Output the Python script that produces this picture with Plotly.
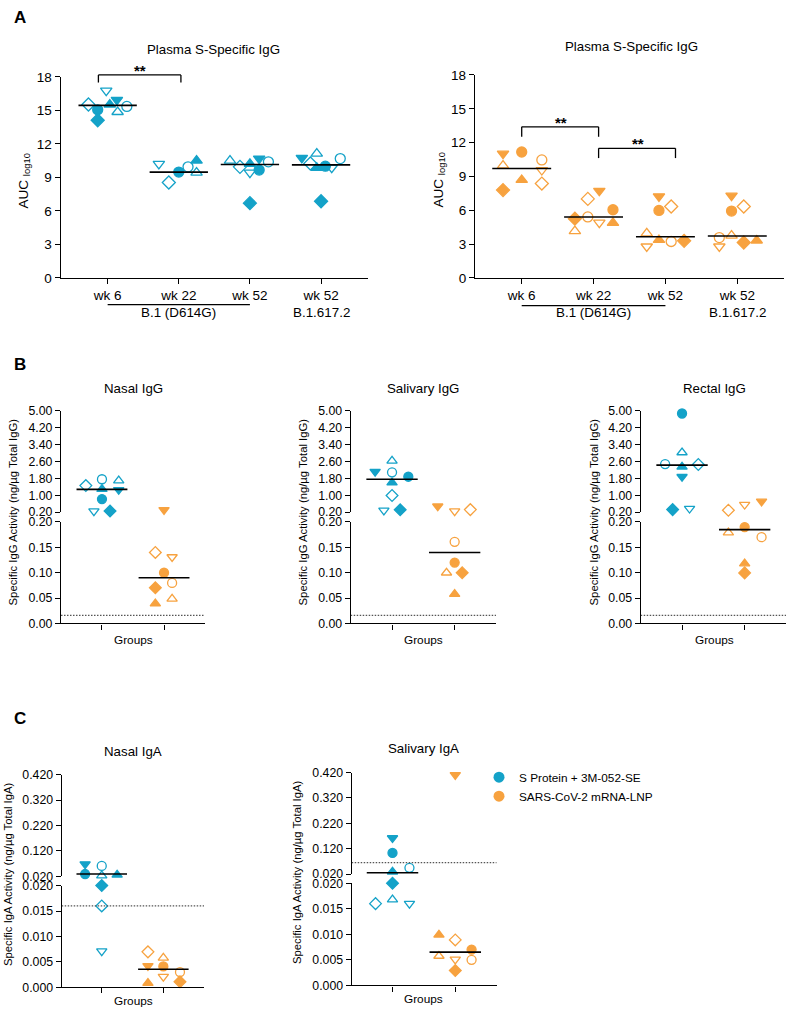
import plotly.graph_objects as go

W, H = 788, 1018
BLUE = '#14A2C8'
ORANGE = '#F7A23F'
FONT = 'Liberation Sans, Arial, Helvetica, sans-serif'

group_names = ['S Protein + 3M-052-SE', 'SARS-CoV-2 mRNA-LNP']
# animal order: filled circle, filled diamond, filled tri-up, filled tri-down,
#               open circle, open diamond, open tri-up, open tri-down
animal_symbols = ['circle', 'diamond', 'triangle-up', 'triangle-down',
                  'circle-open', 'diamond-open', 'triangle-up-open', 'triangle-down-open']

# ---------------- Panel A data (AUC log10) ----------------
a_tick_labels = ['wk 6', 'wk 22', 'wk 52', 'wk 52']
a_variant_labels = ['B.1 (D614G)', 'B.1.617.2']
a_protein_wk6 = [15.06, 14.12, 15.53, 15.94, 15.36, 15.53, 14.86, 16.77]
a_protein_wk22 = [9.48, None, 10.51, None, 9.95, 8.55, 9.43, 10.22]
a_protein_wk52 = [9.66, 6.70, 10.22, 10.69, 10.40, 9.95, 10.51, 9.43]
a_protein_wk52_delta = [10.01, 6.87, 9.87, 10.75, 10.69, 10.25, 11.13, 9.87]
a_protein_medians = [15.45, 9.48, 10.16, 10.13]
a_mrna_wk6 = [11.17, 7.79, 8.69, 11.02, 10.47, 8.37, 9.97, 9.57]
a_mrna_wk22 = [6.05, 5.26, 4.88, 7.73, 5.41, 7.01, 4.16, 4.91]
a_mrna_wk52 = [5.99, 3.29, 3.37, 7.24, 3.23, 6.34, 3.95, 2.79]
a_mrna_wk52_delta = [5.93, 3.14, 3.32, 7.30, 3.58, 6.34, 3.75, 2.79]
a_mrna_medians = [9.71, 5.41, 3.66, 3.72]

# ---------------- Panel B data (ng/ug total IgG) ----------------
nasal_igg_protein = [0.82, 0.25, 1.29, 1.26, 1.76, 1.46, 1.70, 0.25]
nasal_igg_mrna = [0.10, 0.0705, 0.039, 0.31, 0.080, 0.140, 0.0485, 0.131]
nasal_igg_medians = [1.28, 0.09]
salivary_igg_protein = [1.88, 0.31, 1.60, 2.12, 2.09, 0.99, 2.63, 0.28]
salivary_igg_mrna = [0.120, 0.10, 0.058, 0.48, 0.161, 0.32, 0.10, 0.25]
salivary_igg_medians = [1.76, 0.14]
rectal_igg_protein = [4.88, 0.32, 2.35, 1.88, 2.48, 2.46, 3.03, 0.37]
rectal_igg_mrna = [0.190, 0.0997, 0.118, 0.71, 0.170, 0.29, 0.179, 0.56]
rectal_igg_medians = [2.43, 0.185]
igg_detection_limit = 0.016

# ---------------- Panel C data (ng/ug total IgA) ----------------
nasal_iga_protein = [0.029, 0.020, 0.026, 0.068, 0.061, 0.016, 0.0226, 0.0071]
nasal_iga_mrna = [0.0041, 0.0011, 0.00084, 0.0042, 0.0030, 0.00697, 0.0058, 0.0021]
nasal_iga_medians = [0.029, 0.00355]
nasal_iga_limit = 0.016
salivary_iga_protein = [0.103, 0.020, 0.029, 0.162, 0.0446, 0.016, 0.0168, 0.016]
salivary_iga_mrna = [0.0070, 0.0029, 0.0099, 0.411, 0.0050, 0.0089, 0.00575, 0.0051]
salivary_iga_medians = [0.025, 0.0065]
salivary_iga_limit = 0.065

# ---------------- layout helpers: horizontal jitter per point ----------------
a_protein_offsets = [
    [-0.14, -0.14, 0.03, 0.13, 0.27, -0.27, 0.14, -0.02],
    [0.0, 0.0, 0.25, 0.0, 0.13, -0.14, 0.25, -0.28],
    [0.13, 0.0, 0.0, 0.13, 0.26, -0.14, -0.28, 0.0],
    [0.06, 0.0, -0.06, -0.27, 0.27, -0.15, -0.06, 0.15],
]
a_mrna_offsets = [
    [0.0, -0.26, 0.0, -0.26, 0.28, 0.28, -0.26, 0.28],
    [0.27, -0.26, 0.27, 0.08, -0.08, -0.08, -0.26, 0.08],
    [-0.09, 0.26, -0.09, -0.09, 0.08, 0.08, -0.26, -0.26],
    [-0.08, 0.09, 0.27, -0.08, -0.25, 0.09, -0.08, -0.25],
]
nasal_igg_off = [[0, 0.13, 0, 0.27, 0, -0.26, 0.27, -0.13],
                 [0, -0.14, -0.14, 0, 0.13, -0.14, 0.13, 0.13]]
salivary_igg_off = [[0.26, 0.13, 0, -0.27, 0, 0, 0, -0.13],
                    [0, 0.12, 0, -0.27, 0, 0.25, -0.13, 0]]
rectal_igg_off = [[0, -0.15, 0, 0, -0.27, 0.26, 0, 0.12],
                  [0, 0, 0, 0.27, 0.27, -0.26, -0.26, 0]]
nasal_iga_off = [[-0.27, 0, 0.25, -0.27, 0, 0, 0, 0],
                 [0, 0.27, -0.25, -0.25, 0.27, -0.25, 0, 0]]
salivary_iga_off = [[0, 0, 0, 0, 0.27, -0.27, 0, 0.27],
                    [0.26, 0, -0.26, 0, 0.26, 0, -0.26, 0]]


def px_x(px):
    return px / W


def px_y(py):
    return 1 - py / H


fig = go.Figure()


def add_points(xa, ya, cat, values, offsets, color, size, keep=lambda v: True):
    xs, ys, syms = [], [], []
    for v, o, s in zip(values, offsets, animal_symbols):
        if v is None or not keep(v):
            continue
        xs.append(cat + o)
        ys.append(v)
        syms.append(s)
    if not xs:
        return
    fig.add_trace(go.Scatter(
        x=xs, y=ys, xaxis=xa, yaxis=ya, mode='markers',
        marker=dict(symbol=syms, size=size, color=color, line=dict(color=color, width=1.3)),
        cliponaxis=False, showlegend=False, hoverinfo='skip'))


def add_median(xa, ya, cat, m, half=0.41):
    fig.add_trace(go.Scatter(
        x=[cat - half, cat + half], y=[m, m], xaxis=xa, yaxis=ya, mode='lines',
        line=dict(color='black', width=1.6), cliponaxis=False,
        showlegend=False, hoverinfo='skip'))


axis_common = dict(showline=True, linecolor='black', linewidth=1.3, ticks='outside',
                   ticklen=5, tickwidth=1.3, tickcolor='black', showgrid=False,
                   zeroline=False, fixedrange=True)


def xaxis(left, right, rng, anchor, tickvals, ticktext=None, size=13.5):
    d = dict(axis_common, domain=[px_x(left), px_x(right)], range=rng, anchor=anchor,
             tickvals=tickvals, tickfont=dict(size=size, color='black', family=FONT))
    if ticktext is None:
        d['showticklabels'] = False
    else:
        d['ticktext'] = ticktext
    return d


def yaxis(top, bottom, rng, anchor, tickvals, fmt, size=12.3):
    return dict(axis_common, domain=[px_y(bottom), px_y(top)], range=rng, anchor=anchor,
                tickvals=tickvals, tickformat=fmt,
                tickfont=dict(size=size, color='black', family=FONT))


layout = {}
# Panel A
A_XR1 = [-0.66, 3.66]
A_XR2 = [-0.65, 3.65]
layout['xaxis'] = xaxis(60.7, 368, A_XR1, 'y', [0, 1, 2, 3], a_tick_labels)
layout['yaxis'] = yaxis(71, 275, [0, 18], 'x', [0, 3, 6, 9, 12, 15, 18], 'd', size=13.5)
layout['xaxis2'] = xaxis(475, 784, A_XR2, 'y2', [0, 1, 2, 3], a_tick_labels)
layout['yaxis2'] = yaxis(69, 275, [0, 18], 'x2', [0, 3, 6, 9, 12, 15, 18], 'd', size=13.5)

# Panel B (broken axes)
igg_up_ticks = [0.2, 1.0, 1.8, 2.6, 3.4, 4.2, 5.0]
igg_low_ticks = [0.0, 0.05, 0.10, 0.15, 0.20]
B_XR = [-0.66, 1.66]
b_panels = [('3', '3', '4', 61, 205), ('4', '5', '6', 350.7, 496), ('5', '7', '8', 640.7, 786)]
for xn, yu, yl, l, r in b_panels:
    layout['xaxis' + xn] = xaxis(l, r, B_XR, 'y' + yl, [0, 1])
    layout['yaxis' + yu] = yaxis(410, 512.7, [0.2, 5.0], 'x' + xn, igg_up_ticks, '.2f')
    layout['yaxis' + yl] = yaxis(522.7, 625.7, [0, 0.2], 'x' + xn, igg_low_ticks, '.2f')

# Panel C (broken axes)
iga_up_ticks = [0.02, 0.12, 0.22, 0.32, 0.42]
iga_low_ticks = [0.0, 0.005, 0.010, 0.015, 0.020]
C_XR = [-0.65, 1.66]
layout['xaxis6'] = xaxis(61.7, 204, C_XR, 'y10', [0, 1])
layout['yaxis9'] = yaxis(779.3, 882.3, [0.02, 0.42], 'x6', iga_up_ticks, '.3f')
layout['yaxis10'] = yaxis(891.7, 995, [0, 0.02], 'x6', iga_low_ticks, '.3f')
layout['xaxis7'] = xaxis(351.7, 496.7, C_XR, 'y12', [0, 1])
layout['yaxis11'] = yaxis(777, 880, [0.02, 0.42], 'x7', iga_up_ticks, '.3f')
layout['yaxis12'] = yaxis(889.3, 993, [0, 0.02], 'x7', iga_low_ticks, '.3f')

# ---------------- traces: panel A ----------------
a_protein = [a_protein_wk6, a_protein_wk22, a_protein_wk52, a_protein_wk52_delta]
a_mrna = [a_mrna_wk6, a_mrna_wk22, a_mrna_wk52, a_mrna_wk52_delta]
for c in range(4):
    add_points('x', 'y', c, a_protein[c], a_protein_offsets[c], BLUE, 10)
    add_points('x2', 'y2', c, a_mrna[c], a_mrna_offsets[c], ORANGE, 10)
for c in range(4):
    add_median('x', 'y', c, a_protein_medians[c])
    add_median('x2', 'y2', c, a_mrna_medians[c])

# ---------------- traces: panels B & C ----------------
broken = [
    ('x3', 'y3', 'y4', 0.2, [nasal_igg_protein, nasal_igg_mrna], nasal_igg_off, nasal_igg_medians),
    ('x4', 'y5', 'y6', 0.2, [salivary_igg_protein, salivary_igg_mrna], salivary_igg_off, salivary_igg_medians),
    ('x5', 'y7', 'y8', 0.2, [rectal_igg_protein, rectal_igg_mrna], rectal_igg_off, rectal_igg_medians),
    ('x6', 'y9', 'y10', 0.02, [nasal_iga_protein, nasal_iga_mrna], nasal_iga_off, nasal_iga_medians),
    ('x7', 'y11', 'y12', 0.02, [salivary_iga_protein, salivary_iga_mrna], salivary_iga_off, salivary_iga_medians),
]
colors = [BLUE, ORANGE]
for xa, yu, yl, brk, groups, offs, meds in broken:
    for g in range(2):
        add_points(xa, yu, g, groups[g], offs[g], colors[g], 9, keep=lambda v, b=brk: v > b)
        add_points(xa, yl, g, groups[g], offs[g], colors[g], 9, keep=lambda v, b=brk: v <= b)
    for g in range(2):
        add_median(xa, yu if meds[g] > brk else yl, g, meds[g])

# legend entries
for name, col in zip(group_names, colors):
    fig.add_trace(go.Scatter(x=[None], y=[None], xaxis='x', yaxis='y', mode='markers',
                             marker=dict(symbol='circle', size=11, color=col),
                             name=name, showlegend=True))

# ---------------- shapes ----------------
shapes = []


def xdom(v, rng):
    return (v - rng[0]) / (rng[1] - rng[0])


def line_dom(xa, rng_x, x0, x1, ya, rng_y, y0, y1, width=1.3):
    shapes.append(dict(type='line', xref=xa + ' domain', yref=ya + ' domain',
                       x0=xdom(x0, rng_x), x1=xdom(x1, rng_x),
                       y0=xdom(y0, rng_y), y1=xdom(y1, rng_y),
                       line=dict(color='black', width=width)))


def bracket(xa, rng_x, ya, xl, xr, ytop, ylow):
    line_dom(xa, rng_x, xl, xr, ya, [0, 18], ytop, ytop)
    line_dom(xa, rng_x, xl, xl, ya, [0, 18], ytop, ylow)
    line_dom(xa, rng_x, xr, xr, ya, [0, 18], ytop, ylow)


bracket('x', A_XR1, 'y', -0.13, 1.03, 18.18, 17.5)
bracket('x2', A_XR2, 'y2', 0.0, 1.07, 13.4, 12.52)
bracket('x2', A_XR2, 'y2', 1.07, 2.14, 11.5, 10.63)

# variant underline
for xa, rng, ypx in [('x', A_XR1, 302), ('x2', A_XR2, 303)]:
    shapes.append(dict(type='line', xref=xa + ' domain', yref='paper',
                       x0=xdom(0, rng), x1=xdom(2, rng), y0=px_y(ypx), y1=px_y(ypx),
                       line=dict(color='black', width=1.2)))

# detection limits (dotted)
for xa, ya, val, rng in [('x3', 'y4', igg_detection_limit, B_XR), ('x4', 'y6', igg_detection_limit, B_XR),
                         ('x5', 'y8', igg_detection_limit, B_XR), ('x6', 'y10', nasal_iga_limit, C_XR),
                         ('x7', 'y11', salivary_iga_limit, C_XR)]:
    shapes.append(dict(type='line', xref=xa, yref=ya, x0=rng[0], x1=rng[1], y0=val, y1=val,
                       line=dict(color='#555555', width=1.2, dash='1.5px,1.5px')))

# ---------------- annotations ----------------
ann = []


def text(t, xpx, ypx, size=13.3, bold=False, angle=0, xref='paper', xval=None):
    ann.append(dict(text=('<b>%s</b>' % t) if bold else t,
                    x=xval if xval is not None else px_x(xpx), xref=xref,
                    y=px_y(ypx), yref='paper', showarrow=False, textangle=angle,
                    xanchor='center', yanchor='middle',
                    font=dict(size=size, color='black', family=FONT)))


text('A', 20, 11, size=17, bold=True)
text('B', 20, 363, size=17, bold=True)
text('C', 20, 722, size=17, bold=True)

text('Plasma S-Specific IgG', 213, 43)
text('Plasma S-Specific IgG', 631, 40)
text('Nasal IgG', 133, 387)
text('Salivary IgG', 423, 387)
text('Rectal IgG', 714, 387)
text('Nasal IgA', 133, 756)
text('Salivary IgA', 423, 753)

text('AUC <sub>log10</sub>', 24, 177, size=13.5, angle=-90)
text('AUC <sub>log10</sub>', 439, 176, size=13.5, angle=-90)
igg_title = 'Specific IgG Activity (ng/µg Total IgG)'
iga_title = 'Specific IgA Activity (ng/µg Total IgA)'
text(igg_title, 13, 513, size=11.3, angle=-90)
text(igg_title, 303, 513, size=11.3, angle=-90)
text(igg_title, 594, 513, size=11.3, angle=-90)
text(iga_title, 8, 880, size=11.3, angle=-90)
text(iga_title, 297, 878, size=11.3, angle=-90)

for xpx, ypx in [(133, 642), (423, 642), (714, 642), (133, 1009), (423, 1007)]:
    text('Groups', xpx, ypx, size=11.8)

for xa in ['x', 'x2']:
    text(a_variant_labels[0], 0, 310, size=13.4, xref=xa, xval=1)
    text(a_variant_labels[1], 0, 310, size=13.4, xref=xa, xval=3)

text('**', 0, 64, size=15, bold=True, xref='x', xval=0.46)
text('**', 0, 117, size=15, bold=True, xref='x2', xval=0.54)
text('**', 0, 139, size=15, bold=True, xref='x2', xval=1.62)

fig.update_layout(
    width=W, height=H, margin=dict(l=0, r=0, t=0, b=0),
    paper_bgcolor='white', plot_bgcolor='white',
    font=dict(family=FONT, color='black', size=12),
    shapes=shapes, annotations=ann,
    legend=dict(x=px_x(479), y=px_y(767), xanchor='left', yanchor='top',
                font=dict(size=11.8, family=FONT, color='black'),
                bgcolor='rgba(0,0,0,0)', itemwidth=30, tracegroupgap=0),
    **layout)

fig.write_html('out.html', config={'displayModeBar': False},
               post_script="document.body.style.margin='0px';document.body.style.overflow='hidden';")
